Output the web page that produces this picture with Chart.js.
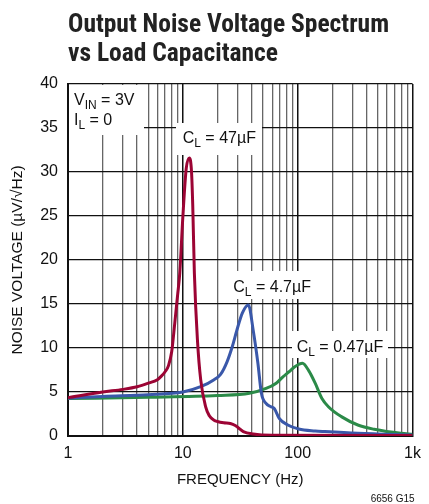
<!DOCTYPE html>
<html><head><meta charset="utf-8">
<script src="https://cdn.jsdelivr.net/npm/chart.js@4/dist/chart.umd.min.js"></script>
<style>html,body{margin:0;padding:0;background:#fff}</style>
</head><body>
<canvas id="c" width="429" height="504"></canvas>
<script>
const TITLE_FONT = "'Liberation Sans Narrow','Roboto Condensed','DejaVu Sans Condensed','Liberation Sans',sans-serif";
const FONT = "'Liberation Sans',Arial,Helvetica,sans-serif";

// x grid ticks (Hz) and their labels
const freqTicks = [1,2,3,4,5,6,7,8,9,10,20,30,40,50,60,70,80,90,100,200,300,400,500,600,700,800,900,1000];
const decadeLabels = {1:'1', 10:'10', 100:'100', 1000:'1k'};
const yMin = 0, yMax = 40, yStep = 5;

// C_L = 47µF
const f47 = [1, 2, 3, 4, 5, 6, 6.5, 7, 7.5, 8, 8.5, 9, 9.4, 10, 10.7, 11.4, 11.9, 12.2, 12.6, 13.4, 14.3, 15.8, 17, 18.7, 20, 22.7, 25.9, 28.6, 30, 33.6, 41, 60, 1000];
const v47 = [4.35, 5.0, 5.3, 5.6, 6.0, 6.4, 6.8, 7.3, 8.0, 9.6, 12.8, 16.0, 18.5, 24.9, 30.4, 31.6, 30.0, 26.1, 18.5, 10.9, 6.4, 3.3, 2.3, 1.8, 1.65, 1.5, 1.42, 1.2, 1.0, 0.5, 0.22, 0.08, 0.05];
// C_L = 4.7µF
const f4p7 = [1, 2, 5, 10, 14.3, 18.7, 21.3, 24.2, 27, 29.5, 33, 37.2, 41, 45, 48.3, 53, 58, 62.7, 69, 82, 102, 142, 172, 334, 1000];
const v4p7 = [4.3, 4.5, 4.7, 5.0, 5.6, 6.4, 7.0, 8.4, 10.2, 12.0, 14.0, 14.9, 12.0, 8.3, 4.85, 3.7, 3.35, 3.1, 2.0, 1.25, 0.8, 0.57, 0.5, 0.3, 0.1];
// C_L = 0.47µF
const f0p47 = [1, 5, 20, 38, 53, 65, 74, 84, 95, 110, 125, 142, 162, 186, 240, 334, 464, 790, 1000];
const v0p47 = [4.25, 4.4, 4.6, 4.85, 5.4, 6.0, 6.7, 7.3, 7.9, 8.26, 7.4, 6.0, 4.3, 3.3, 2.2, 1.25, 0.76, 0.3, 0.2];

const pts = (f, v) => f.map((x, i) => ({x, y: v[i]}));

// text annotations (offsets relative to chart area)
const notes = [
  {box:[1,1,76,51], lines:[{x:6,y:21,parts:[['V',16],['IN',12,4],[' = 3V',16]]},{x:6,y:41,parts:[['I',16],['L',12,4],[' = 0',16]]}]},
  {box:[108,39,194,71], lines:[{x:114.7,y:59.3,parts:[['C',16],['L',12,4],[' = 47µF',16]]}]},
  {box:[160,187,244,215], lines:[{x:165.3,y:207.7,parts:[['C',16],['L',12,4],[' = 4.7µF',16]]}]},
  {box:[224,247,320,274], lines:[{x:228.7,y:267.7,parts:[['C',16],['L',12,4],[' = 0.47µF',16]]}]}
];

function drawParts(ctx, x, y, parts) {
  ctx.textAlign = 'left'; ctx.textBaseline = 'alphabetic'; ctx.fillStyle = '#111';
  for (const [t, s, dy] of parts) {
    ctx.font = s + 'px ' + FONT;
    ctx.fillText(t, x, y + (dy || 0));
    x += ctx.measureText(t).width;
  }
}

const textPlugin = {
  id: 'texts',
  beforeDatasetsDraw(chart) {
    const {ctx, chartArea: a} = chart;
    ctx.save();
    for (const n of notes) {
      const [x1, y1, x2, y2] = n.box;
      ctx.fillStyle = '#fff';
      ctx.fillRect(a.left + x1, a.top + y1, x2 - x1, y2 - y1);
      for (const l of n.lines) drawParts(ctx, a.left + l.x, a.top + l.y, l.parts);
    }
    ctx.restore();
  },
  afterDraw(chart) {
    const {ctx, chartArea: a} = chart;
    ctx.save();
    ctx.fillStyle = '#222';
    ctx.textAlign = 'left'; ctx.textBaseline = 'alphabetic';
    ctx.font = 'bold 25.5px ' + TITLE_FONT;
    ctx.fillText('Output Noise Voltage Spectrum', a.left, 31.7);
    ctx.fillText('vs Load Capacitance', a.left, 61);
    ctx.font = '10px ' + FONT;
    ctx.textAlign = 'right';
    ctx.fillStyle = '#111';
    ctx.fillText('6656 G15', a.right + 2, 502);
    ctx.restore();
  }
};

new Chart(document.getElementById('c'), {
  type: 'line',
  data: {
    datasets: [
      {label: '47µF', data: pts(f47, v47), borderColor: '#9c0434'},
      {label: '4.7µF', data: pts(f4p7, v4p7), borderColor: '#3a58aa'},
      {label: '0.47µF', data: pts(f0p47, v0p47), borderColor: '#2b8a48'}
    ]
  },
  options: {
    responsive: false, animation: false, devicePixelRatio: 1,
    layout: {padding: {top: 84, right: 10, left: 0, bottom: 0}},
    elements: {
      line: {borderWidth: 3, cubicInterpolationMode: 'monotone', fill: false},
      point: {radius: 0, hoverRadius: 0}
    },
    plugins: {legend: {display: false}, tooltip: {enabled: false}, title: {display: false}},
    scales: {
      x: {
        type: 'logarithmic', min: 1, max: 1000, position: 'bottom',
        afterBuildTicks: s => { s.ticks = freqTicks.map(v => ({value: v})); },
        afterFit: s => { s.height = 68; },
        ticks: {
          autoSkip: false, maxRotation: 0, minRotation: 0, padding: 8, color: '#111',
          font: {family: FONT, size: 16},
          callback: v => decadeLabels[v] || ''
        },
        grid: {
          drawTicks: false,
          color: c => (c.tick && decadeLabels[c.tick.value]) ? '#111' : '#666',
          lineWidth: c => (c.tick && decadeLabels[c.tick.value]) ? 1.5 : 1.3
        },
        border: {color: '#111', width: 2},
        title: {display: true, text: 'FREQUENCY (Hz)', color: '#111', font: {family: FONT, size: 15}, padding: {top: 0, bottom: 15}}
      },
      y: {
        min: yMin, max: yMax,
        afterFit: s => { s.width = 68; },
        ticks: {stepSize: yStep, padding: 10, color: '#111', font: {family: FONT, size: 16}},
        grid: {drawTicks: false, color: '#111', lineWidth: 1.3},
        border: {color: '#111', width: 2},
        title: {display: true, text: 'NOISE VOLTAGE (µV/√Hz)', color: '#111', font: {family: FONT, size: 15.5}, padding: {top: 8, bottom: 0}}
      }
    }
  },
  plugins: [textPlugin]
});
</script>
</body></html>
